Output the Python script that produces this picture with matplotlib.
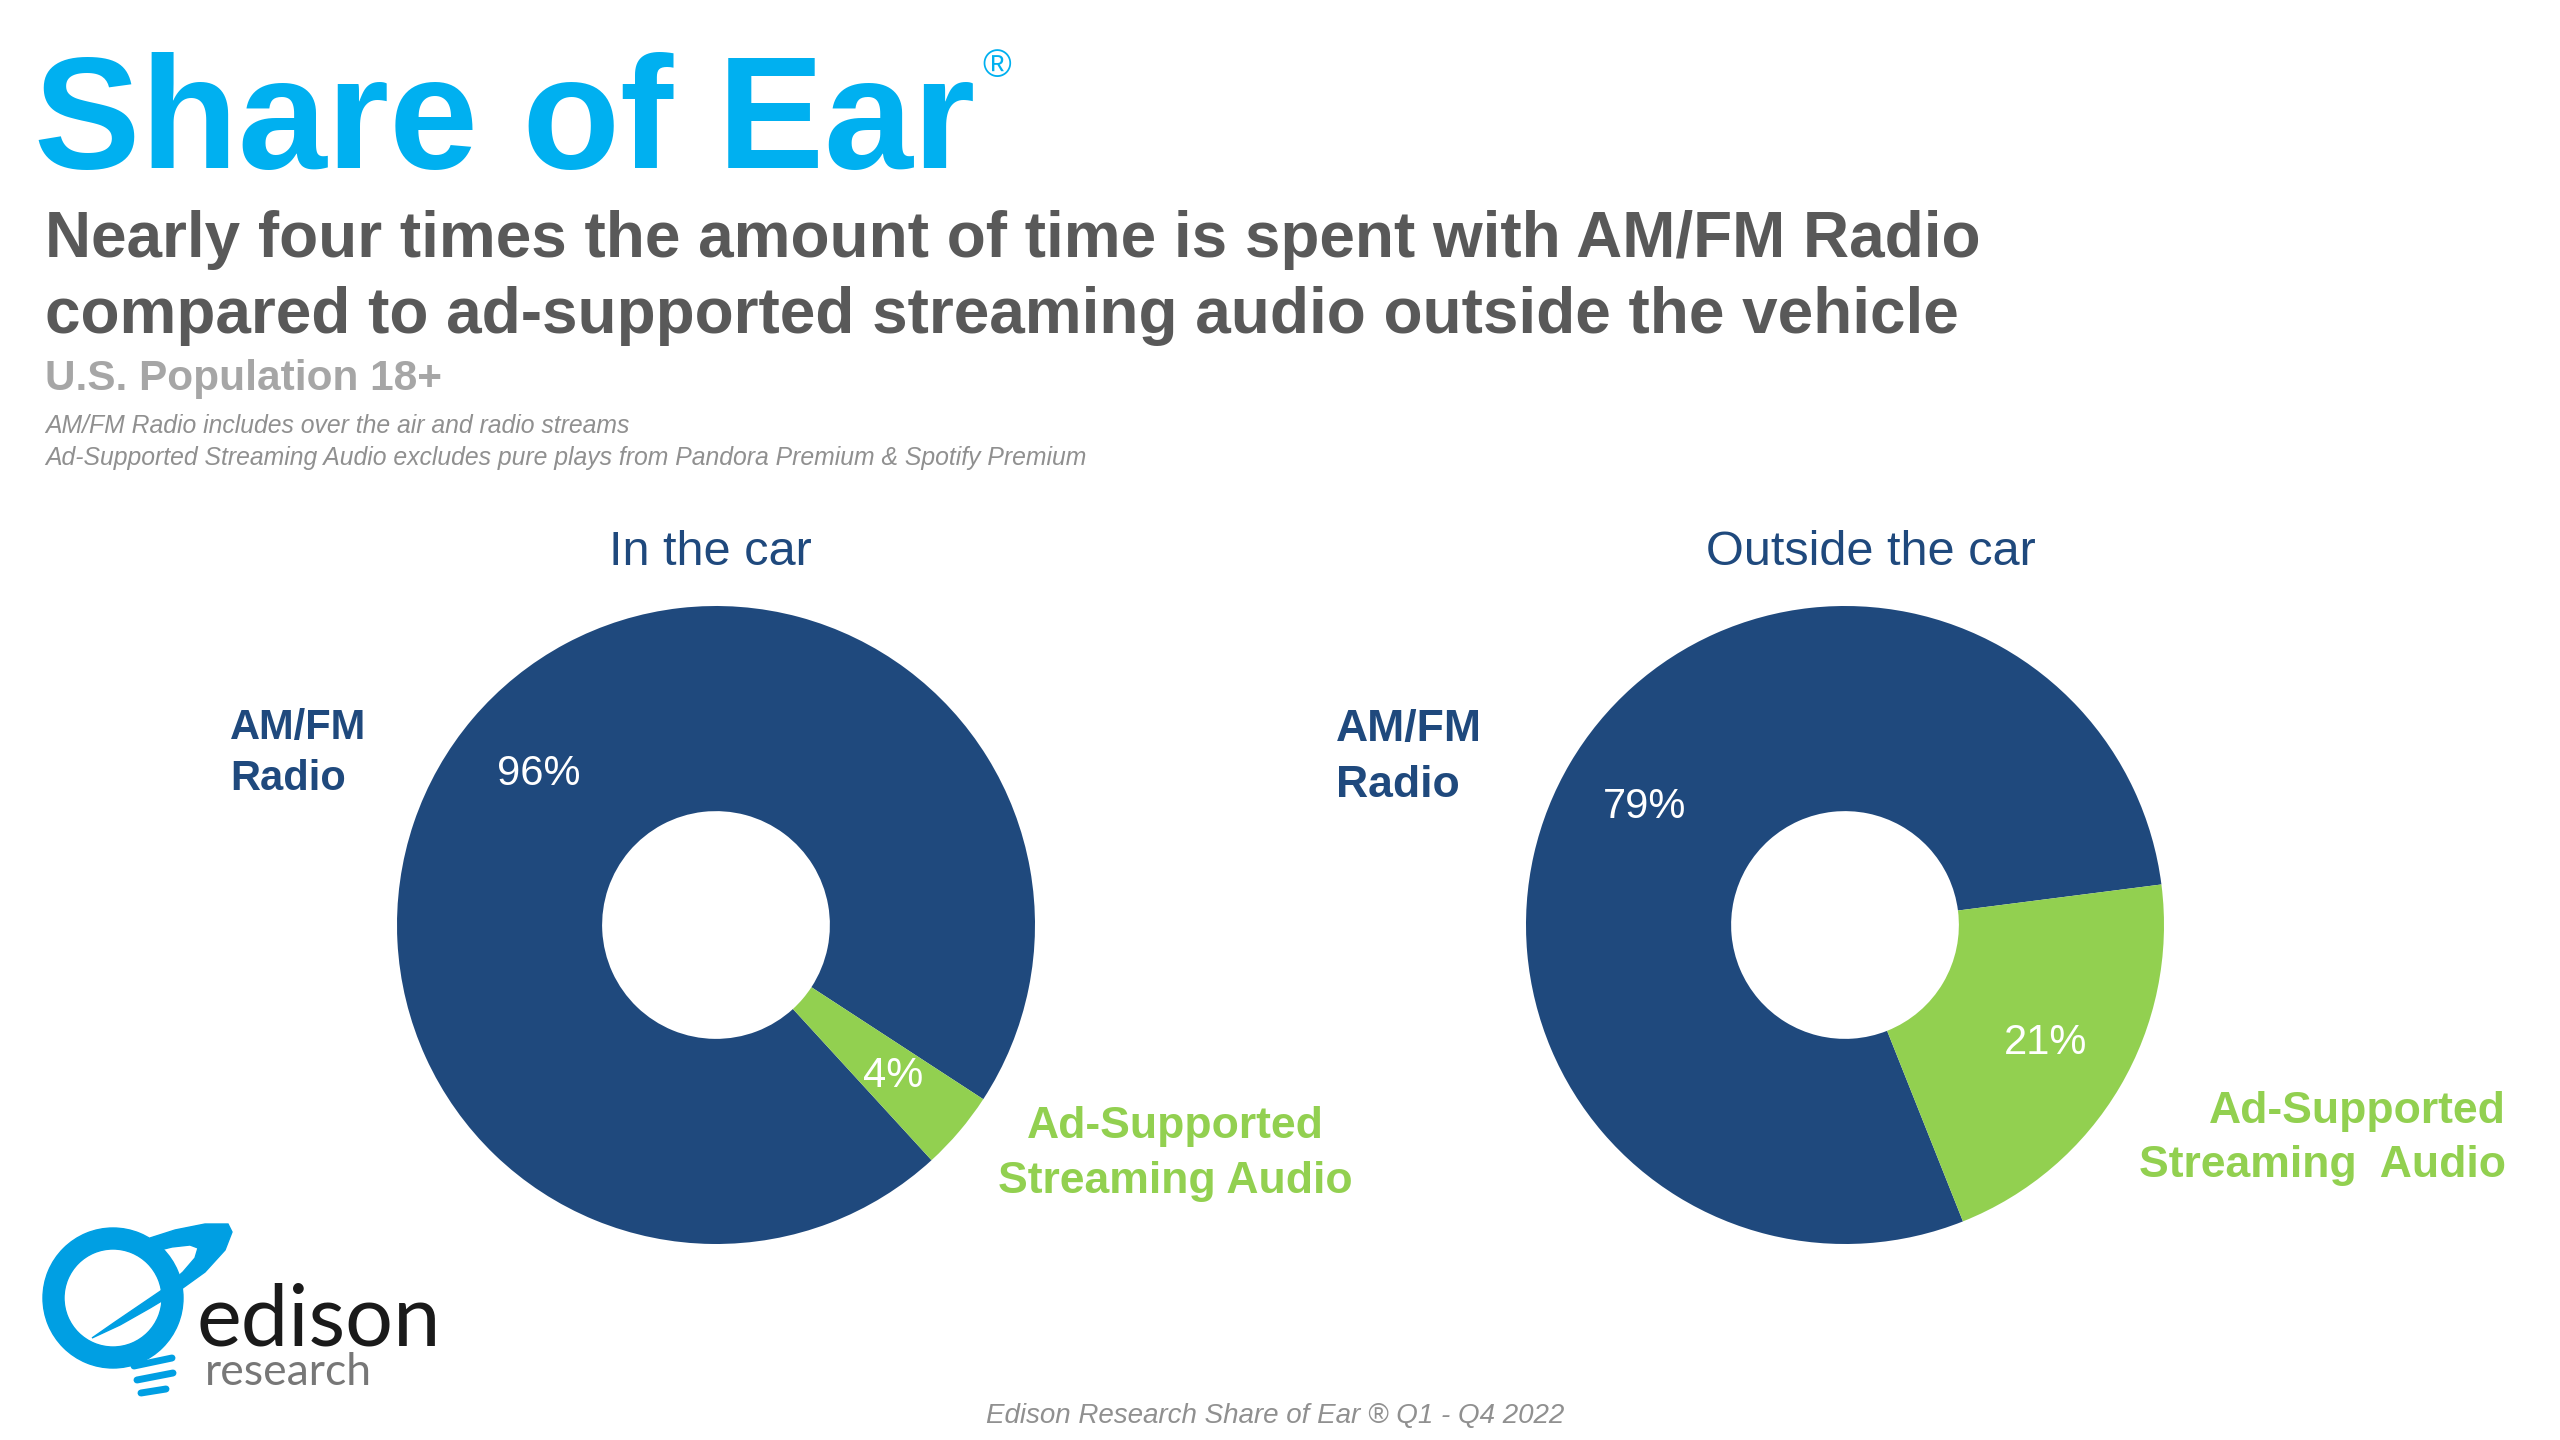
import matplotlib.pyplot as plt
from matplotlib.patches import Wedge, Polygon

plt.rcParams["font.family"] = ["Liberation Sans", "DejaVu Sans"]

# Data
categories_in = ["AM/FM\nRadio", "Ad-Supported\nStreaming Audio"]
categories_out = ["AM/FM\nRadio", "Ad-Supported\nStreaming  Audio"]
in_car = [96, 4]
outside_car = [79, 21]
chart_titles = ["In the car", "Outside the car"]

title = "Share of Ear"
subtitle = ["Nearly four times the amount of time is spent with AM/FM Radio",
            "compared to ad-supported streaming audio outside the vehicle"]
population = "U.S. Population 18+"
notes = ["AM/FM Radio includes over the air and radio streams",
         "Ad-Supported Streaming Audio excludes pure plays from Pandora Premium & Spotify Premium"]
source = "Edison Research Share of Ear \u00ae Q1 - Q4 2022"

# Colours
navy = "#1F497D"
green = "#92D050"
cyan = "#00B0F0"
logo_blue = "#009FE3"

W, H = 2560, 1440
fig = plt.figure(figsize=(W / 100, H / 100), dpi=100)
fig.patch.set_facecolor("white")

# background axes in pixel coordinates (y down)
bg = fig.add_axes([0, 0, 1, 1])
bg.set_xlim(0, W)
bg.set_ylim(H, 0)
bg.axis("off")

# Header
bg.text(34, 168, title, fontsize=115, fontweight="bold", color=cyan, va="baseline")
bg.text(982, 77, "\u00ae", fontsize=28, color=cyan, va="baseline")
for i, line in enumerate(subtitle):
    bg.text(45, 257 + i * 76, line, fontsize=46, fontweight="bold", color="#595959", va="baseline")
bg.text(45, 390, population, fontsize=30.5, fontweight="bold", color="#A6A6A6", va="baseline")
for i, line in enumerate(notes):
    bg.text(45, 433 + i * 32, line, fontsize=17.8, style="italic", color="#909090", va="baseline")
bg.text(1275, 1423, source, fontsize=20, style="italic", color="#909090", va="baseline", ha="center")


def donut(cx, cy, r, values, start):
    ax = fig.add_axes([(cx - r) / W, (H - cy - r) / H, 2 * r / W, 2 * r / H])
    ax.pie(values, colors=[navy, green], startangle=start, counterclock=False,
           radius=1, wedgeprops=dict(width=0.643, linewidth=0),
           autopct="%d%%", pctdistance=0.73,
           textprops=dict(color="white", fontsize=30))
    ax.set_xlim(-1, 1)
    ax.set_ylim(-1, 1)
    return ax


donut(716, 925, 319, in_car, -47.5)
donut(1845, 925, 319, outside_car, -68.3)

# Chart titles
bg.text(710, 565, chart_titles[0], fontsize=35, color=navy, ha="center", va="baseline")
bg.text(1871, 565, chart_titles[1], fontsize=35, color=navy, ha="center", va="baseline")

# Category labels
for i, line in enumerate(categories_in[0].split("\n")):
    bg.text(230, 739 + i * 51, line, fontsize=30, fontweight="bold", color=navy, va="baseline")
for i, line in enumerate(categories_in[1].split("\n")):
    bg.text(1175, 1138 + i * 55, line, fontsize=32, fontweight="bold", color=green,
            va="baseline", ha="center")
for i, line in enumerate(categories_out[0].split("\n")):
    bg.text(1336, 741 + i * 56, line, fontsize=32, fontweight="bold", color=navy, va="baseline")
for i, line in enumerate(categories_out[1].split("\n")):
    bg.text(2506, 1123 + i * 54, line, fontsize=32, fontweight="bold", color=green,
            va="baseline", ha="right")

# Logo (approximate)
bg.add_patch(Wedge((113, 1298), 70, 0, 360, width=21, color=logo_blue))
swoosh = [(150, 1238), (175, 1230), (205, 1224), (228, 1224), (232, 1232), (225, 1250),
          (205, 1272), (180, 1290), (150, 1308), (120, 1325), (92, 1338), (115, 1322),
          (140, 1305), (165, 1288), (183, 1272), (195, 1258), (198, 1248), (190, 1245),
          (172, 1247), (160, 1250)]
bg.add_patch(Polygon(swoosh, closed=True, color=logo_blue))
for (x0, y0, x1, y1) in [(134, 1366, 172, 1358), (137, 1380, 173, 1373), (141, 1393, 166, 1389)]:
    bg.plot([x0, x1], [y0, y1], color=logo_blue, lw=5, solid_capstyle="round")
bg.text(196, 1346, "edison", fontsize=61, color="#1A1A1A", family="Lato", va="baseline")
bg.text(205, 1385, "research", fontsize=32, color="#777777", family="Lato", va="baseline")

fig.savefig("out.png", dpi=100)
